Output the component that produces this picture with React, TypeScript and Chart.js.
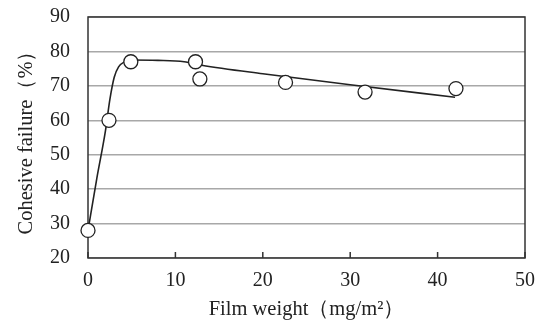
import { useEffect, useRef } from "react";
import { Chart, registerables } from "chart.js";
Chart.register(...registerables);

// Measured points
const filmWeight = [0, 2.4, 4.9, 12.3, 12.8, 22.6, 31.7, 42.1];
const cohesiveFailure = [28, 60, 77, 77, 72, 71, 68.2, 69.2];

// Fitted curve
const curveX = [0, 1, 2, 2.5, 3, 3.5, 4.2, 5, 8, 11, 13, 20, 30, 42];
const curveY = [28, 43, 57, 66, 72.5, 75.5, 77, 77.5, 77.4, 77, 76, 73.5, 70.3, 66.7];

const xTickValues = [0, 10, 20, 30, 40, 50];
const yTickValues = [20, 30, 40, 50, 60, 70, 80, 90];

const xTitle = "Film weight（mg/m²）";
const yTitle = "Cohesive failure（%）";

const framePlugin = {
  id: "frame",
  beforeDatasetsDraw(chart: any) {
    const { ctx, chartArea } = chart;
    const xs = chart.scales.x;
    ctx.save();
    ctx.strokeStyle = "#333";
    ctx.lineWidth = 1.5;
    ctx.strokeRect(chartArea.left, chartArea.top, chartArea.right - chartArea.left, chartArea.bottom - chartArea.top);
    ctx.beginPath();
    xTickValues.forEach((v) => {
      const px = xs.getPixelForValue(v);
      ctx.moveTo(px, chartArea.bottom);
      ctx.lineTo(px, chartArea.bottom - 6);
    });
    ctx.stroke();
    ctx.restore();
  },
};

export default function App() {
  const ref = useRef<HTMLCanvasElement>(null);
  useEffect(() => {
    const family = "'Liberation Serif', 'Times New Roman', serif";
    const font = { family, size: 20 };
    const titleFont = { family, size: 20.5 };
    const chart = new Chart(ref.current!, {
      type: "line",
      data: {
        datasets: [
          {
            data: filmWeight.map((x, i) => ({ x, y: cohesiveFailure[i] })),
            showLine: false,
            pointRadius: 7,
            pointBackgroundColor: "#fff",
            pointBorderColor: "#222",
            pointBorderWidth: 1.3,
            clip: false,
            order: 0,
          },
          {
            data: curveX.map((x, i) => ({ x, y: curveY[i] })),
            borderColor: "#222",
            borderWidth: 1.6,
            pointRadius: 0,
            cubicInterpolationMode: "monotone",
            fill: false,
            order: 1,
          },
        ],
      },
      options: {
        animation: false,
        responsive: false,
        maintainAspectRatio: false,
        layout: { padding: { top: 17, right: 11, left: 0, bottom: 0 } },
        plugins: { legend: { display: false }, tooltip: { enabled: false } },
        scales: {
          x: {
            type: "linear",
            min: 0,
            max: 50,
            afterBuildTicks: (s: any) => {
              s.ticks = xTickValues.map((value) => ({ value }));
            },
            afterFit: (s: any) => {
              s.height = 64;
              s.paddingLeft = 0;
              s.paddingRight = 0;
            },
            grid: { display: false, drawTicks: false },
            border: { display: false },
            ticks: { font, color: "#222", padding: 11, maxRotation: 0 },
            title: { display: true, text: xTitle, font: titleFont, color: "#222", padding: { top: 0, bottom: 0 } },
          },
          y: {
            type: "linear",
            min: 20,
            max: 90,
            afterBuildTicks: (s: any) => {
              s.ticks = yTickValues.map((value) => ({ value }));
            },
            afterFit: (s: any) => {
              s.width = 88;
              s.paddingTop = 0;
              s.paddingBottom = 0;
            },
            grid: { color: "#a8a8a8", lineWidth: 1.5, drawTicks: false },
            border: { display: false },
            ticks: { font, color: "#222", padding: 18 },
            title: { display: true, text: yTitle, font: titleFont, color: "#222", padding: { top: 14, bottom: 0 } },
          },
        },
      },
      plugins: [framePlugin],
    } as any);
    return () => chart.destroy();
  }, []);
  return (
    <div style={{ position: "fixed", left: 0, top: 0, width: 536, height: 322, background: "#fff" }}>
      <canvas ref={ref} width={536} height={322} style={{ width: 536, height: 322 }} />
    </div>
  );
}
